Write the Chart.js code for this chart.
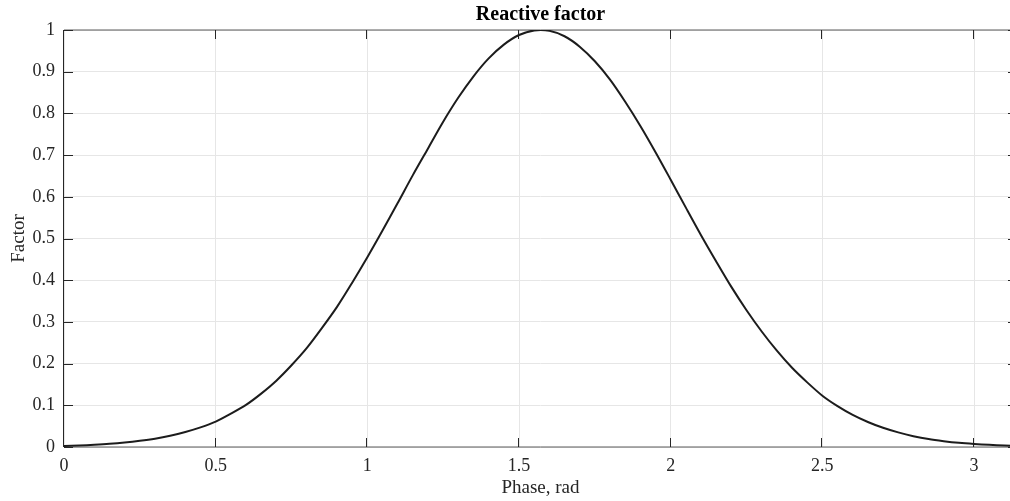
<!DOCTYPE html>
<html>
<head>
<meta charset="utf-8">
<script src="https://cdn.jsdelivr.net/npm/chart.js@4.4.0/dist/chart.umd.min.js"></script>
<style>
  html, body { margin: 0; padding: 0; background: #fff; overflow: hidden; }
  #wrap { position: relative; width: 1030px; height: 501px; }
</style>
</head>
<body>
<div id="wrap"><canvas id="grafico"></canvas></div>
<script>
// =====================
// Data
// =====================
const fase = [0, 0.05, 0.1, 0.15, 0.2, 0.25, 0.3, 0.35, 0.4, 0.45, 0.5, 0.55, 0.6, 0.65, 0.7, 0.75,
  0.8, 0.85, 0.9, 0.95, 1.0, 1.05, 1.1, 1.15, 1.2, 1.25, 1.3, 1.35, 1.4, 1.45, 1.5, 1.55, 1.6,
  1.65, 1.7, 1.75, 1.8, 1.85, 1.9, 1.95, 2.0, 2.05, 2.1, 2.15, 2.2, 2.25, 2.3, 2.35, 2.4, 2.45,
  2.5, 2.55, 2.6, 2.65, 2.7, 2.75, 2.8, 2.85, 2.9, 2.95, 3.0, 3.05, 3.1, 3.1416];
const fator = [0.0026, 0.0037, 0.0054, 0.0076, 0.0107, 0.0148, 0.020, 0.027, 0.036, 0.047, 0.061, 0.080, 0.101, 0.128, 0.159, 0.196,
  0.237, 0.285, 0.336, 0.394, 0.455, 0.519, 0.585, 0.652, 0.716, 0.780, 0.838, 0.889, 0.932, 0.965, 0.988, 0.999, 0.998,
  0.985, 0.960, 0.925, 0.881, 0.828, 0.770, 0.707, 0.641, 0.574, 0.508, 0.445, 0.384, 0.328, 0.277, 0.231, 0.190, 0.155,
  0.123, 0.098, 0.077, 0.060, 0.046, 0.035, 0.026, 0.019, 0.014, 0.010, 0.0072, 0.0051, 0.0035, 0.0026];

const xTicks = [0, 0.5, 1, 1.5, 2, 2.5, 3];
const yTicks = [0, 0.1, 0.2, 0.3, 0.4, 0.5, 0.6, 0.7, 0.8, 0.9, 1];

const corTexto = "#262626";
const fonte = "'Liberation Serif', 'DejaVu Serif', serif";

// =====================
// Box and inward ticks (MATLAB style)
// =====================
const caixaPlugin = {
  id: "caixa",
  beforeDatasetsDraw(chart) {
    const { ctx, chartArea: a, scales } = chart;
    const tl = 9;
    ctx.save();
    ctx.lineWidth = 1;
    // frame: left axis sharp, others a bit softer like the reference
    ctx.strokeStyle = corTexto;
    ctx.beginPath();
    ctx.moveTo(Math.round(a.left) - 0.5, a.top);
    ctx.lineTo(Math.round(a.left) - 0.5, a.bottom);
    ctx.stroke();
    ctx.strokeStyle = "#5a5a5a";
    ctx.beginPath();
    ctx.moveTo(a.left, a.bottom);
    ctx.lineTo(a.right, a.bottom);
    ctx.moveTo(a.left, a.top);
    ctx.lineTo(a.right, a.top);
    ctx.moveTo(a.right, a.top);
    ctx.lineTo(a.right, a.bottom);
    ctx.stroke();
    // ticks
    ctx.strokeStyle = corTexto;
    ctx.beginPath();
    xTicks.forEach((v) => {
      const px = Math.round(scales.x.getPixelForValue(v)) - 0.5;
      ctx.moveTo(px, a.bottom);
      ctx.lineTo(px, a.bottom - tl);
      ctx.moveTo(px, a.top);
      ctx.lineTo(px, a.top + tl);
    });
    yTicks.forEach((v) => {
      const py = Math.round(scales.y.getPixelForValue(v)) + 0.5;
      ctx.moveTo(a.left, py);
      ctx.lineTo(a.left + tl, py);
      ctx.moveTo(a.right, py);
      ctx.lineTo(a.right - tl, py);
    });
    ctx.stroke();
    ctx.restore();
  },
};

const ctx = document.getElementById("grafico").getContext("2d");

new Chart(ctx, {
  type: "line",
  data: {
    datasets: [
      {
        data: fase.map((x, i) => ({ x, y: fator[i] })),
        borderColor: "#1c1c1c",
        borderWidth: 2,
        pointRadius: 0,
        tension: 0.3,
        fill: false,
      },
    ],
  },
  options: {
    responsive: true,
    maintainAspectRatio: false,
    animation: false,
    layout: { padding: { left: 0, right: 13, top: 0, bottom: 0 } },
    scales: {
      x: {
        type: "linear",
        min: 0,
        max: Math.PI,
        afterBuildTicks: (s) => { s.ticks = xTicks.map((v) => ({ value: v })); },
        afterFit: (s) => { s.height = 54; },
        grid: { color: "#e6e6e6", drawTicks: false },
        border: { display: false },
        ticks: {
          color: corTexto,
          padding: 8,
          maxRotation: 0,
          font: { family: fonte, size: 18 },
          callback: (v) => String(v),
        },
        title: {
          display: true,
          text: "Phase, rad",
          color: corTexto,
          padding: { top: 0, bottom: 1.5 },
          font: { family: fonte, size: 19 },
        },
      },
      y: {
        type: "linear",
        min: 0,
        max: 1,
        afterBuildTicks: (s) => { s.ticks = yTicks.map((v) => ({ value: v })); },
        afterFit: (s) => { s.width = 64; },
        grid: { color: "#e6e6e6", drawTicks: false },
        border: { display: false },
        ticks: {
          color: corTexto,
          padding: 9,
          font: { family: fonte, size: 18 },
          callback: (v) => String(v),
        },
        title: {
          display: true,
          text: "Factor",
          color: corTexto,
          padding: { top: 8, bottom: 0 },
          font: { family: fonte, size: 19 },
        },
      },
    },
    plugins: {
      legend: { display: false },
      tooltip: { enabled: false },
      title: {
        display: true,
        text: "Reactive factor",
        color: "#000",
        fullSize: false,
        padding: { top: 3, bottom: 3 },
        font: { family: fonte, size: 20, weight: "bold" },
      },
    },
  },
  plugins: [caixaPlugin],
});
</script>
</body>
</html>
